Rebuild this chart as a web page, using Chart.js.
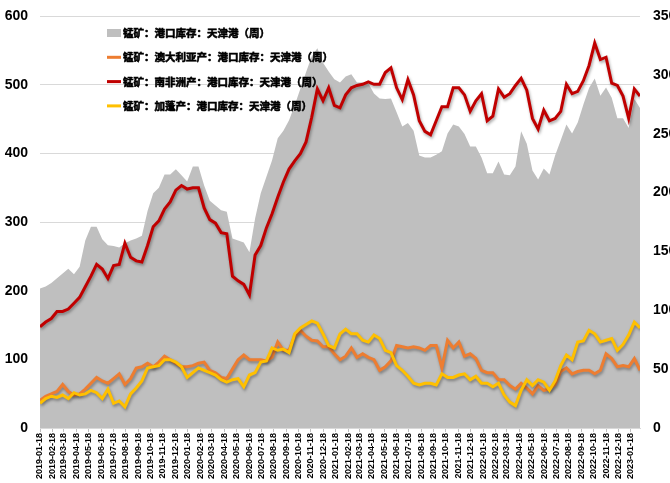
<!DOCTYPE html>
<html>
<head>
<meta charset="utf-8">
<script src="https://cdn.jsdelivr.net/npm/chart.js@4.4.0/dist/chart.umd.min.js"></script>
<style>
  html, body { margin: 0; padding: 0; background: #fff; }
</style>
</head>
<body>
<canvas id="grafico" width="670" height="483"></canvas>
<script>
// Datas das amostras (a cada duas semanas)
const dates = [
  '2019-01-18','2019-02-01','2019-02-15','2019-03-01','2019-03-15','2019-03-29','2019-04-12','2019-04-26','2019-05-10','2019-05-24',
  '2019-06-07','2019-06-21','2019-07-05','2019-07-19','2019-08-02','2019-08-16','2019-08-30','2019-09-13','2019-09-27','2019-10-11',
  '2019-10-25','2019-11-08','2019-11-22','2019-12-06','2019-12-20','2020-01-03','2020-01-17','2020-01-31','2020-02-14','2020-02-28',
  '2020-03-13','2020-03-27','2020-04-10','2020-04-24','2020-05-08','2020-05-22','2020-06-05','2020-06-19','2020-07-03','2020-07-17',
  '2020-07-31','2020-08-14','2020-08-28','2020-09-11','2020-09-25','2020-10-09','2020-10-23','2020-11-06','2020-11-20','2020-12-04',
  '2020-12-18','2021-01-01','2021-01-15','2021-01-29','2021-02-12','2021-02-26','2021-03-12','2021-03-26','2021-04-09','2021-04-23',
  '2021-05-07','2021-05-21','2021-06-04','2021-06-18','2021-07-02','2021-07-16','2021-07-30','2021-08-13','2021-08-27','2021-09-10',
  '2021-09-24','2021-10-08','2021-10-22','2021-11-05','2021-11-19','2021-12-03','2021-12-17','2021-12-31','2022-01-14','2022-01-28',
  '2022-02-11','2022-02-25','2022-03-11','2022-03-25','2022-04-08','2022-04-22','2022-05-06','2022-05-20','2022-06-03','2022-06-17',
  '2022-07-01','2022-07-15','2022-07-29','2022-08-12','2022-08-26','2022-09-09','2022-09-23','2022-10-07','2022-10-21','2022-11-04',
  '2022-11-18','2022-12-02','2022-12-16','2022-12-30','2023-01-13','2023-01-27','2023-02-10'
];

// 锰矿：港口库存：天津港（周） - eixo esquerdo
const estoqueTianjin = [
  203,206,211,218,225,232,224,235,273,293,
  293,275,266,265,263,269,273,276,280,316,
  342,350,369,369,377,368,359,381,381,353,
  331,324,317,315,276,273,270,256,305,342,
  366,390,422,433,448,470,494,518,541,553,
  532,519,508,503,512,515,503,503,502,487,
  480,479,480,460,439,444,433,397,394,394,
  398,403,429,442,439,428,410,410,394,371,
  371,388,369,368,381,432,414,375,362,378,
  369,397,419,442,429,445,471,495,509,484,
  496,481,451,451,437,479,466
];

// 澳大利亚产 - eixo direito
const australia = [
  23.5,27,29,31,37,31,28,29,33,38,
  43,40,38,42,46,37,42,51,52,55,
  52,56,61,58,55,52,52,53,55,56,
  49,47,43,42,50,58,62,58,58,58,
  57,60,73,66,66,78,83,78,74.5,74,
  69,69,63,58,61,68,60,63,60,58,
  49,52,57,70,69,68,69,68,66,70,
  70,51,74.5,68,73,61,63,59,49,47,
  47,41,41,36,33,38,34,29,36,32,
  33,37,48,51,46,48,49,49,46,49,
  63,59,52,53,52,59,49
];

// 南非洲产 - eixo direito
const africaDoSul = [
  86,90,93,99,99,101,106,111,120,129,
  139,135,127,138,139,157,145,142,141,155,
  171,176,186,192,202,206,203,204,204,187,
  177,174,166,165,129,125,122,113,147,155,
  170,182,196,209,220,227,233,243,264,288,
  278,289,274,272,283,289,291,292,294,292,
  292,302,306,289,279,296,283,261,252,249,
  261,273,273,289,289,283,269,278,284,261,
  265,288,281,284,291,297,287,263,254,270,
  261,263,269,292,284,286,295,308,327,313,
  315,293,291,282,263,288,282
];

// 加蓬产 - eixo direito
const gabao = [
  21,25,27,26,28,25,30,28,29,32,
  30,25,33,21,23,18,29,34,40,51,
  52,53,58,58,56,52,43,47,51,49,
  47,45,41,39,41,42,35,45,47,56,
  57,68,66,67,64,80,85,88,91,89,
  80,70,68,80,84,80,80,74.5,73,79,
  76,66,64,53,49,44,38,36.5,38,38,
  36.5,46,43,43,45,46,41,44,38,38,
  35,38,28,22,19,32,41,36,41,39,
  32,40,53,62,58,73,74,83,80,73,
  74.5,76,66,71,79,90,85
];

// Rótulos mensais do eixo X
const rotulosMes = [
  '2019-01-18','2019-02-18','2019-03-18','2019-04-18','2019-05-18','2019-06-18','2019-07-18','2019-08-18','2019-09-18','2019-10-18','2019-11-18','2019-12-18',
  '2020-01-18','2020-02-18','2020-03-18','2020-04-18','2020-05-18','2020-06-18','2020-07-18','2020-08-18','2020-09-18','2020-10-18','2020-11-18','2020-12-18',
  '2021-01-18','2021-02-18','2021-03-18','2021-04-18','2021-05-18','2021-06-18','2021-07-18','2021-08-18','2021-09-18','2021-10-18','2021-11-18','2021-12-18',
  '2022-01-18','2022-02-18','2022-03-18','2022-04-18','2022-05-18','2022-06-18','2022-07-18','2022-08-18','2022-09-18','2022-10-18','2022-11-18','2022-12-18',
  '2023-01-18'
];

// Converte uma data em número de dias desde a primeira amostra
const diaDe = s => (Date.parse(s) - Date.parse(dates[0])) / 86400000;
const pontos = vals => vals.map((v, i) => ({ x: diaDe(dates[i]), y: v }));

Chart.defaults.font.family = "'Liberation Sans', Arial, sans-serif";
Chart.defaults.color = '#000';

// Sombra suave embaixo das linhas
const sombra = {
  id: 'sombra',
  beforeDatasetDraw(chart, args) {
    const ds = chart.data.datasets[args.index];
    if (ds.fill) return;
    const ctx = chart.ctx;
    ctx.save();
    ctx.shadowColor = 'rgba(0,0,0,0.35)';
    ctx.shadowBlur = 3;
    ctx.shadowOffsetX = 1;
    ctx.shadowOffsetY = 2;
  },
  afterDatasetDraw(chart, args) {
    const ds = chart.data.datasets[args.index];
    if (ds.fill) return;
    chart.ctx.restore();
  }
};

// Legenda desenhada dentro da área do gráfico
const legenda = {
  id: 'legenda',
  afterDatasetsDraw(chart) {
    const ctx = chart.ctx;
    ctx.save();
    ctx.font = "bold 10.5px 'Noto Sans CJK SC', sans-serif";
    ctx.textBaseline = 'middle';
    ctx.lineWidth = 0.6;
    ctx.strokeStyle = '#000';
    chart.data.datasets.forEach((ds, i) => {
      const y = 33 + i * 24.3;
      if (ds.fill) {
        ctx.fillStyle = ds.backgroundColor;
        ctx.fillRect(107, y - 4, 14, 8);
      } else {
        ctx.fillStyle = ds.borderColor;
        ctx.fillRect(107, y - 1.5, 14, 3);
      }
      ctx.fillStyle = '#000';
      ctx.fillText(ds.label, 123, y);
      ctx.strokeText(ds.label, 123, y); // engrossa o texto
    });
    ctx.restore();
  }
};

// Eixos verticais sem folga extra em cima/embaixo
const semFolga = scale => { scale.paddingTop = 0; scale.paddingBottom = 0; };

const chart = new Chart(document.getElementById('grafico'), {
  type: 'line',
  data: {
    datasets: [
      {
        label: '锰矿：港口库存：天津港（周）',
        data: pontos(estoqueTianjin),
        yAxisID: 'y',
        fill: 'origin',
        backgroundColor: '#bfbfbf',
        borderWidth: 0,
        borderColor: '#bfbfbf',
        pointRadius: 0,
        order: 4
      },
      {
        label: '锰矿：澳大利亚产：港口库存：天津港（周）',
        data: pontos(australia),
        yAxisID: 'y1',
        fill: false,
        borderColor: '#ed7d31',
        borderWidth: 3,
        pointRadius: 0,
        order: 3
      },
      {
        label: '锰矿：南非洲产：港口库存：天津港（周）',
        data: pontos(africaDoSul),
        yAxisID: 'y1',
        fill: false,
        borderColor: '#c00000',
        borderWidth: 3,
        pointRadius: 0,
        order: 2
      },
      {
        label: '锰矿：加蓬产：港口库存：天津港（周）',
        data: pontos(gabao),
        yAxisID: 'y1',
        fill: false,
        borderColor: '#ffc000',
        borderWidth: 3,
        pointRadius: 0,
        order: 1
      }
    ]
  },
  options: {
    responsive: false,
    animation: false,
    devicePixelRatio: 1,
    layout: { padding: { top: 16, left: 0, right: 0, bottom: 0 } },
    plugins: {
      legend: { display: false },
      tooltip: { enabled: false }
    },
    elements: { line: { tension: 0 } },
    scales: {
      x: {
        type: 'linear',
        min: 0,
        max: diaDe(dates[dates.length - 1]),
        afterBuildTicks: scale => {
          scale.ticks = rotulosMes.map(s => ({ value: diaDe(s) }));
        },
        afterFit: scale => { scale.height = 55; },
        ticks: {
          autoSkip: false,
          minRotation: 90,
          maxRotation: 90,
          padding: 1,
          font: { size: 9, weight: 'bold' },
          callback: (value, index) => rotulosMes[index]
        },
        grid: { drawOnChartArea: false, drawTicks: true, tickLength: 4, color: '#bfbfbf' },
        border: { display: true, color: '#d9d9d9' }
      },
      y: {
        position: 'left',
        min: 0,
        max: 600,
        afterFit: scale => { scale.width = 40; semFolga(scale); },
        ticks: {
          stepSize: 100,
          padding: 12,
          font: { family: "'Liberation Sans Narrow', 'Liberation Sans', sans-serif", size: 14, weight: 'bold' }
        },
        grid: { color: '#d9d9d9', drawTicks: false },
        border: { display: false }
      },
      y1: {
        position: 'right',
        min: 0,
        max: 350,
        afterFit: scale => { scale.width = 30; semFolga(scale); },
        ticks: {
          stepSize: 50,
          padding: 13,
          font: { family: "'Liberation Sans Narrow', 'Liberation Sans', sans-serif", size: 14, weight: 'bold' }
        },
        grid: { display: false, drawTicks: false },
        border: { display: false }
      }
    }
  },
  plugins: [sombra, legenda]
});
</script>
</body>
</html>
